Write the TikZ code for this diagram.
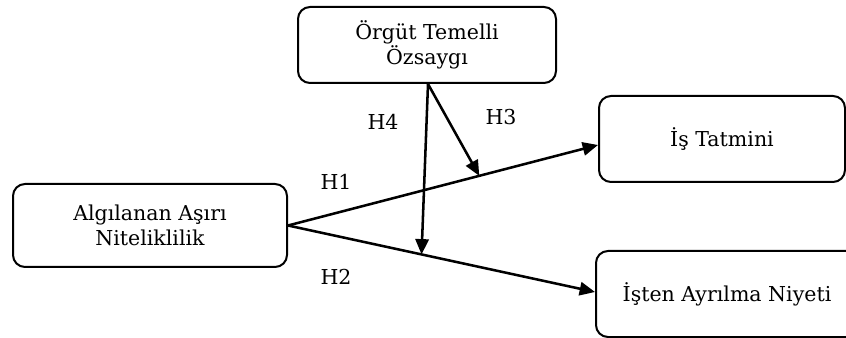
\documentclass[tikz,border=0pt]{standalone}
\usepackage{fontspec}
\setmainfont{DejaVu Serif}
\usetikzlibrary{arrows.meta,calc}
\begin{document}
\begin{tikzpicture}[x=0.75pt,y=-0.75pt,
  box/.style={draw,line width=1.5pt,rounded corners=9pt,align=center,inner sep=0pt,
    font=\fontsize{15.4}{19}\selectfont},
  conn/.style={line width=1.9pt,-{Triangle[length=11.5pt,width=10pt]}},
  lbl/.style={font=\fontsize{15.4}{19}\selectfont,inner sep=0pt}]
\useasboundingbox (0,0) rectangle (846,338);
\clip (0,0) rectangle (846,338);
\node[box,minimum width=258*0.75pt,minimum height=76*0.75pt] (ozs) at (427,45) {Örgüt Temelli\\Özsaygı};
\node[box,minimum width=274*0.75pt,minimum height=83*0.75pt] (ana) at (150,225.5) {Algılanan Aşırı\\Niteliklilik};
\node[box,minimum width=246*0.75pt,minimum height=86*0.75pt] (ist) at (722,139) {İş Tatmini};
\node[box,minimum width=262*0.75pt,minimum height=86*0.75pt] (isten) at (727,294) {İşten Ayrılma Niyeti};
\coordinate (istin) at ($(ist.west)+(0,6)$);
\coordinate (istenin) at ($(isten.west)+(0,-2)$);
\draw[conn] (ana.east) -- (istin);
\draw[conn] (ana.east) -- (istenin);
\coordinate (m2) at ($(ana.east)!0.435!(istenin)$);
\coordinate (m1) at ($(ana.east)!0.617!(istin)$);
\draw[conn] ([xshift=0.75pt]ozs.south) -- (m2);
\draw[conn] ([xshift=0.75pt]ozs.south) -- (m1);
\node[lbl] (h4) at (383,122) {H4};
\node[lbl] (h3) at (501,117) {H3};
\node[lbl] (h1) at (336,182) {H1};
\node[lbl] (h2) at (336,277) {H2};
\end{tikzpicture}
\end{document}
